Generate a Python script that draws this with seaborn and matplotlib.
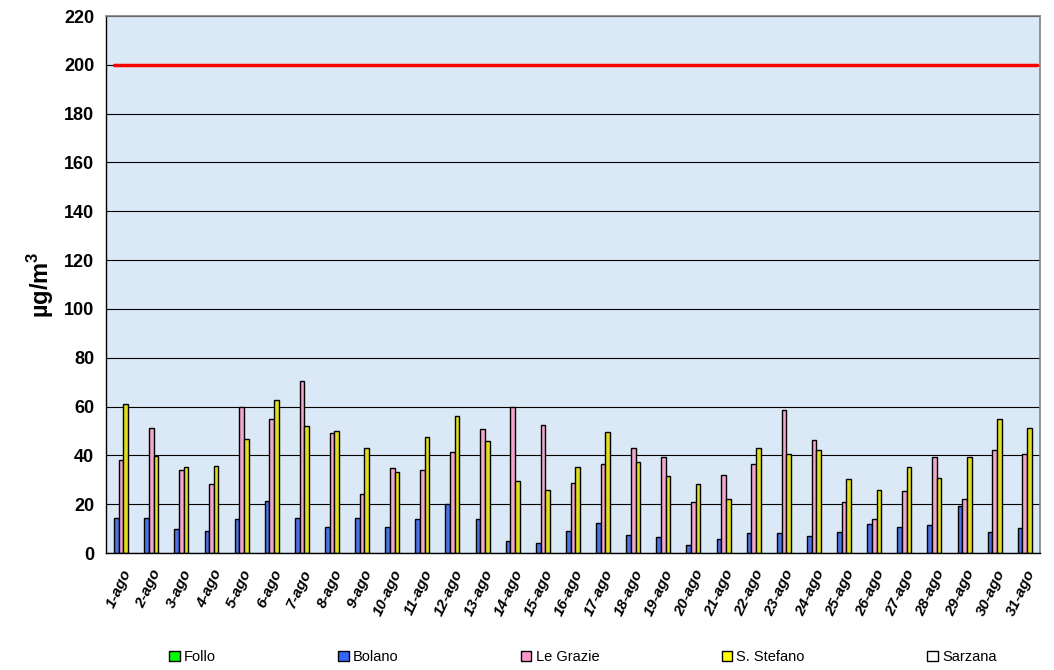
import matplotlib.pyplot as plt
import seaborn as sns
import numpy as np
import pandas as pd
from matplotlib.patches import Patch

# dati giornalieri agosto (µg/m3)
days = ["1-ago", "2-ago", "3-ago", "4-ago", "5-ago", "6-ago", "7-ago", "8-ago",
        "9-ago", "10-ago", "11-ago", "12-ago", "13-ago", "14-ago", "15-ago",
        "16-ago", "17-ago", "18-ago", "19-ago", "20-ago", "21-ago", "22-ago",
        "23-ago", "24-ago", "25-ago", "26-ago", "27-ago", "28-ago", "29-ago",
        "30-ago", "31-ago"]

follo = [np.nan] * 31
bolano = [14.2, 14.2, 10, 9.2, 14, 21.2, 14.2, 10.8, 14.5, 10.5, 14, 20, 14, 4.8, 4,
          8.9, 12.2, 7.4, 6.6, 3.4, 5.8, 8.2, 8.2, 7.1, 8.6, 11.9, 10.8, 11.6, 19.3,
          8.6, 10.3]
le_grazie = [38.1, 51.2, 34, 28.2, 60, 54.8, 70.5, 49.2, 24, 34.9, 34, 41.5, 50.8, 60,
             52.3, 28.6, 36.3, 42.9, 39.2, 20.8, 31.8, 36.3, 58.6, 46.3, 21.1, 13.8,
             25.3, 39.5, 22.3, 42.2, 40.5]
s_stefano = [61.1, 39.7, 35.3, 35.8, 46.7, 62.6, 52, 50, 43, 33.2, 47.4, 56, 45.8, 29.5,
             25.8, 35.2, 49.7, 37.1, 31.6, 28.1, 22.3, 43.2, 40.5, 42, 30.5, 26, 35.2,
             30.7, 39.2, 54.7, 51.1]
sarzana = [np.nan] * 31

stations = ["Follo", "Bolano", "Le Grazie", "S. Stefano", "Sarzana"]
colors = ["#00ff00", "#3366ff", "#ff99cc", "#ffff00", "#ffffff"]
limit = 200

df = pd.DataFrame({"giorno": days, "Follo": follo, "Bolano": bolano,
                   "Le Grazie": le_grazie, "S. Stefano": s_stefano, "Sarzana": sarzana})
df = df.melt(id_vars="giorno", var_name="stazione", value_name="valore")

sns.set_style("white")
plt.rcParams['font.family'] = ['Liberation Sans', 'DejaVu Sans']
plt.rcParams['mathtext.fontset'] = 'custom'
plt.rcParams['mathtext.rm'] = 'Liberation Sans:bold'
plt.rcParams['mathtext.bf'] = 'Liberation Sans:bold'
for k in ['text.color', 'axes.labelcolor', 'xtick.color', 'ytick.color']:
    plt.rcParams[k] = 'black'

fig = plt.figure(figsize=(10.54, 6.70), dpi=100)
ax = fig.add_axes([0.1006, 0.1746, 0.886, 0.8015])
ax.set_facecolor("#dbe8f6")

sns.barplot(data=df, x="giorno", y="valore", hue="stazione", hue_order=stations,
            palette=dict(zip(stations, colors)), width=0.77, gap=0,
            edgecolor="black", linewidth=1, errorbar=None, legend=False, ax=ax)

ax.axhline(limit, xmin=0.008, xmax=0.997, color="red", lw=2.5, zorder=5)

ax.set_xlim(-0.5, len(days) - 0.5)
ax.set_ylim(0, 220)
ax.set_yticks(range(0, 221, 20))
ax.yaxis.grid(True, color="black", lw=0.8)
ax.set_axisbelow(True)

ax.set_xticks(range(len(days)))
ax.set_xticklabels(days, rotation=65, ha="right", rotation_mode="anchor",
                   fontsize=11, fontweight="bold", fontstyle="italic")
ax.set_xticks(np.arange(-0.5, len(days), 1), minor=True)
ax.tick_params(axis="x", which="major", length=0, pad=10)
ax.tick_params(axis="x", which="minor", length=5, direction="out", color="black")
ax.tick_params(axis="y", length=5, direction="out", color="black", labelsize=13)
for t in ax.get_yticklabels():
    t.set_fontweight("bold")

ax.set_xlabel("")
ax.set_ylabel("µg/m$^{3}$", fontsize=17, fontweight="bold", labelpad=6)

for s in ["left", "bottom"]:
    ax.spines[s].set_color("black")
    ax.spines[s].set_linewidth(1)
for s in ["top", "right"]:
    ax.spines[s].set_color("#808080")
    ax.spines[s].set_linewidth(1.2)

handles = [Patch(facecolor=c, edgecolor="black") for c in colors]
fig.legend(handles, stations, loc="center", bbox_to_anchor=(0.553, 1 - 657 / 670),
           ncol=5, frameon=False, fontsize=10.5, columnspacing=8.4,
           handlelength=0.7, handleheight=0.7, handletextpad=0.3)

fig.savefig("out.png", dpi=100)
